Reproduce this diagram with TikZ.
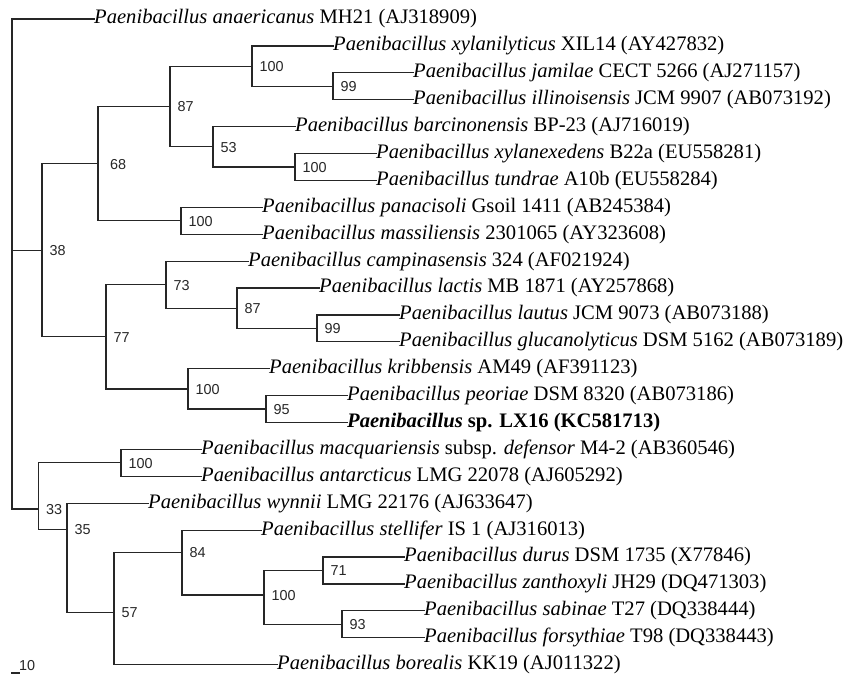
\documentclass[tikz,border=0pt]{standalone}
\usepackage{fontspec}
\setmainfont{Liberation Serif}
\newfontfamily\labfont{Liberation Sans}
\begin{document}
\begin{tikzpicture}[x=1pt,y=-1pt,
  br/.style={line width=1.2pt, draw=black!85, line cap=rect},
  leaf/.style={anchor=west, inner sep=0pt, font=\fontsize{20.6}{24}\selectfont},
  boot/.style={anchor=west, inner sep=0pt, font=\labfont\fontsize{14.4}{16}\selectfont, text=black!85},
]
\useasboundingbox (0,0) rectangle (851,675);
% internal nodes
\coordinate (R) at (12,19);
\coordinate (n38) at (42,250.2);
\coordinate (n68) at (98,163.6);
\coordinate (n87a) at (170,106.4);
\coordinate (n100a) at (252,66.1);
\coordinate (n99a) at (333,86.25);
\coordinate (n53) at (213,146.8);
\coordinate (n100b) at (295,166.95);
\coordinate (n100c) at (181,220.75);
\coordinate (n77) at (106,336.7);
\coordinate (n73) at (166,284.6);
\coordinate (n87b) at (237,308.2);
\coordinate (n99b) at (317,328.35);
\coordinate (n100d) at (188,388.9);
\coordinate (n95) at (266,409.05);
\coordinate (n33) at (38.3,509);
\coordinate (n100e) at (121,462.85);
\coordinate (n35) at (67,529.3);
\coordinate (n57) at (114,612.3);
\coordinate (n84) at (182,552.3);
\coordinate (n100f) at (264,595);
\coordinate (n71) at (323,570.45);
\coordinate (n93) at (342,624.25);
% leaves
\node[leaf] (l1) at (94,19) {\textit{Paenibacillus anaericanus} MH21 (AJ318909)};
\node[leaf] (l2) at (333,45.9) {\textit{Paenibacillus xylanilyticus} XIL14 (AY427832)};
\node[leaf] (l3) at (413,72.8) {\textit{Paenibacillus jamilae} CECT 5266 (AJ271157)};
\node[leaf] (l4) at (413,99.7) {\textit{Paenibacillus illinoisensis} JCM 9907 (AB073192)};
\node[leaf] (l5) at (295,126.6) {\textit{Paenibacillus barcinonensis} BP-23 (AJ716019)};
\node[leaf] (l6) at (376,153.5) {\textit{Paenibacillus xylanexedens} B22a (EU558281)};
\node[leaf] (l7) at (376,180.4) {\textit{Paenibacillus tundrae} A10b (EU558284)};
\node[leaf] (l8) at (262,207.3) {\textit{Paenibacillus panacisoli} Gsoil 1411 (AB245384)};
\node[leaf] (l9) at (262,234.2) {\textit{Paenibacillus massiliensis} 2301065 (AY323608)};
\node[leaf] (l10) at (248,261.1) {\textit{Paenibacillus campinasensis} 324 (AF021924)};
\node[leaf] (l11) at (319,288) {\textit{Paenibacillus lactis} MB 1871 (AY257868)};
\node[leaf] (l12) at (399,314.9) {\textit{Paenibacillus lautus} JCM 9073 (AB073188)};
\node[leaf] (l13) at (399,341.8) {\textit{Paenibacillus glucanolyticus} DSM 5162 (AB073189)};
\node[leaf] (l14) at (269,368.7) {\textit{Paenibacillus kribbensis} AM49 (AF391123)};
\node[leaf] (l15) at (347,395.6) {\textit{Paenibacillus peoriae} DSM 8320 (AB073186)};
\node[leaf] (l16) at (347,422.5) {\textbf{\textit{Paenibacillus} sp. LX16 (KC581713)}};
\node[leaf] (l17) at (201,449.4) {\textit{Paenibacillus macquariensis} subsp. \textit{defensor} M4-2 (AB360546)};
\node[leaf] (l18) at (201,476.3) {\textit{Paenibacillus antarcticus} LMG 22078 (AJ605292)};
\node[leaf] (l19) at (148,503.2) {\textit{Paenibacillus wynnii} LMG 22176 (AJ633647)};
\node[leaf] (l20) at (261,530.1) {\textit{Paenibacillus stellifer} IS 1 (AJ316013)};
\node[leaf] (l21) at (404,557) {\textit{Paenibacillus durus} DSM 1735 (X77846)};
\node[leaf] (l22) at (404,583.9) {\textit{Paenibacillus zanthoxyli} JH29 (DQ471303)};
\node[leaf] (l23) at (424,610.8) {\textit{Paenibacillus sabinae} T27 (DQ338444)};
\node[leaf] (l24) at (424,637.7) {\textit{Paenibacillus forsythiae} T98 (DQ338443)};
\node[leaf] (l25) at (277,664.6) {\textit{Paenibacillus borealis} KK19 (AJ011322)};
% branches
\draw[br] (R) |- (l1.west);
\draw[br] (R) |- (n38);
\draw[br] (R) |- (n33);
\draw[br] (n38) |- (n68);
\draw[br] (n38) |- (n77);
\draw[br] (n68) |- (n87a);
\draw[br] (n68) |- (n100c);
\draw[br] (n87a) |- (n100a);
\draw[br] (n87a) |- (n53);
\draw[br] (n100a) |- (l2.west);
\draw[br] (n100a) |- (n99a);
\draw[br] (n99a) |- (l3.west);
\draw[br] (n99a) |- (l4.west);
\draw[br] (n53) |- (l5.west);
\draw[br] (n53) |- (n100b);
\draw[br] (n100b) |- (l6.west);
\draw[br] (n100b) |- (l7.west);
\draw[br] (n100c) |- (l8.west);
\draw[br] (n100c) |- (l9.west);
\draw[br] (n77) |- (n73);
\draw[br] (n77) |- (n100d);
\draw[br] (n73) |- (l10.west);
\draw[br] (n73) |- (n87b);
\draw[br] (n87b) |- (l11.west);
\draw[br] (n87b) |- (n99b);
\draw[br] (n99b) |- (l12.west);
\draw[br] (n99b) |- (l13.west);
\draw[br] (n100d) |- (l14.west);
\draw[br] (n100d) |- (n95);
\draw[br] (n95) |- (l15.west);
\draw[br] (n95) |- (l16.west);
\draw[br] (n33) |- (n100e);
\draw[br] (n33) |- (n35);
\draw[br] (n100e) |- (l17.west);
\draw[br] (n100e) |- (l18.west);
\draw[br] (n35) |- (l19.west);
\draw[br] (n35) |- (n57);
\draw[br] (n57) |- (n84);
\draw[br] (n57) |- (l25.west);
\draw[br] (n84) |- (l20.west);
\draw[br] (n84) |- (n100f);
\draw[br] (n100f) |- (n71);
\draw[br] (n100f) |- (n93);
\draw[br] (n71) |- (l21.west);
\draw[br] (n71) |- (l22.west);
\draw[br] (n93) |- (l23.west);
\draw[br] (n93) |- (l24.west);
% bootstrap values
\node[boot] (b38) at ([xshift=7.5pt,yshift=-0.5pt]n38) {38};
\node[boot] (b68) at ([xshift=12pt,yshift=-0.5pt]n68) {68};
\node[boot] (b87a) at ([xshift=7.5pt,yshift=-0.5pt]n87a) {87};
\node[boot] (b100a) at ([xshift=7.5pt,yshift=-0.5pt]n100a) {100};
\node[boot] (b99a) at ([xshift=7.5pt,yshift=-0.5pt]n99a) {99};
\node[boot] (b53) at ([xshift=7.5pt,yshift=-0.5pt]n53) {53};
\node[boot] (b100b) at ([xshift=7.5pt,yshift=-0.5pt]n100b) {100};
\node[boot] (b100c) at ([xshift=7.5pt,yshift=-0.5pt]n100c) {100};
\node[boot] (b77) at ([xshift=7.5pt,yshift=-0.5pt]n77) {77};
\node[boot] (b73) at ([xshift=7.5pt,yshift=-0.5pt]n73) {73};
\node[boot] (b87b) at ([xshift=7.5pt,yshift=-0.5pt]n87b) {87};
\node[boot] (b99b) at ([xshift=7.5pt,yshift=-0.5pt]n99b) {99};
\node[boot] (b100d) at ([xshift=7.5pt,yshift=-0.5pt]n100d) {100};
\node[boot] (b95) at ([xshift=7.5pt,yshift=-0.5pt]n95) {95};
\node[boot] (b33) at ([xshift=7.5pt,yshift=-0.5pt]n33) {33};
\node[boot] (b100e) at ([xshift=7.5pt,yshift=-0.5pt]n100e) {100};
\node[boot] (b35) at ([xshift=7.5pt,yshift=-0.5pt]n35) {35};
\node[boot] (b57) at ([xshift=7.5pt,yshift=-0.5pt]n57) {57};
\node[boot] (b84) at ([xshift=7.5pt,yshift=-0.5pt]n84) {84};
\node[boot] (b100f) at ([xshift=7.5pt,yshift=-0.5pt]n100f) {100};
\node[boot] (b71) at ([xshift=7.5pt,yshift=-0.5pt]n71) {71};
\node[boot] (b93) at ([xshift=7.5pt,yshift=-0.5pt]n93) {93};
% scale bar
\coordinate (sb1) at (12,673);
\coordinate (sb2) at (19,673);
\draw[br] (sb1) -- (sb2);
\node[boot, anchor=base west] (sbl) at (19,670) {10};
\end{tikzpicture}
\end{document}
